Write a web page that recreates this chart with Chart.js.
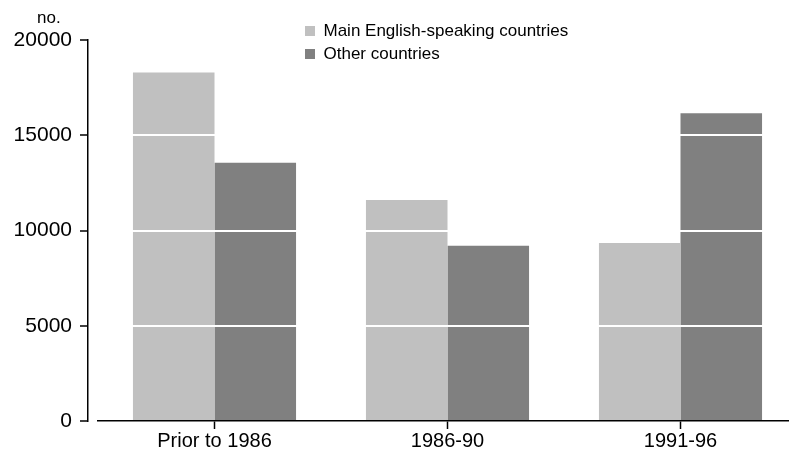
<!DOCTYPE html>
<html>
<head>
<meta charset="utf-8">
<title>Persons by period of arrival</title>
<script src="https://cdn.jsdelivr.net/npm/chart.js@4.4.1/dist/chart.umd.min.js"></script>
<style>
  html, body { margin: 0; padding: 0; background: #fff; overflow: hidden; }
  /* the plot runs a little past the right edge of the window, as in the picture */
  .chart-box { position: relative; width: 797px; height: 452px; }
</style>
</head>
<body>
<div class="chart-box"><canvas id="arrivalChart"></canvas></div>
<script>
// Values
const periods = ["Prior to 1986", "1986-90", "1991-96"];
const mainEnglish = [18300, 11600, 9350];
const otherCountries = [13550, 9200, 16150];
const seriesNames = ["Main English-speaking countries", "Other countries"];
const yTicks = [0, 5000, 10000, 15000, 20000];
const unitLabel = "no.";

Chart.defaults.font.family = "'Liberation Sans', Arial, sans-serif";
Chart.defaults.color = "#000";

// Puts the legend where it sits in the picture and writes the unit label
const placeLegend = {
    id: "placeLegend",
    afterLayout(chart) {
        const lg = chart.legend;
        lg.left = 299;
        lg.top = 16.5;
        lg.right = lg.left + lg.width;
        lg.bottom = lg.top + lg.height;
    },
    afterDraw(chart) {
        const ctx = chart.ctx;
        ctx.save();
        ctx.font = "17px 'Liberation Sans', Arial, sans-serif";
        ctx.fillStyle = "#000";
        ctx.textAlign = "left";
        ctx.textBaseline = "alphabetic";
        ctx.fillText(unitLabel, 37, 23);
        ctx.restore();
    }
};

const ctx = document.getElementById("arrivalChart").getContext("2d");
const arrivalChart = new Chart(ctx, {
    type: "bar",
    data: {
        labels: periods,
        datasets: [{
            label: seriesNames[0],
            data: mainEnglish,
            backgroundColor: "#c0c0c0",
            borderWidth: 0,
            categoryPercentage: 0.7,
            barPercentage: 1.0
        }, {
            label: seriesNames[1],
            data: otherCountries,
            backgroundColor: "#808080",
            borderWidth: 0,
            categoryPercentage: 0.7,
            barPercentage: 1.0
        }]
    },
    options: {
        responsive: true,
        maintainAspectRatio: false,
        animation: false,
        layout: { padding: { top: 40, left: 0, right: 0, bottom: 0 } },
        plugins: {
            tooltip: { enabled: false },
            legend: {
                position: "chartArea",
                align: "start",
                onClick: null,
                labels: {
                    boxWidth: 10,
                    boxHeight: 10,
                    padding: 6,
                    color: "#000",
                    font: { size: 17 }
                }
            }
        },
        scales: {
            x: {
                z: 1,
                offset: true,
                grid: {
                    display: true,
                    z: 1,
                    drawOnChartArea: false,
                    offset: false, // tick marks under the middle of each group
                    tickLength: 8,
                    tickColor: "#000",
                    tickWidth: 1.5
                },
                border: { display: true, z: 2, color: "#000", width: 1.5 },
                ticks: { font: { size: 20 }, padding: 0, maxRotation: 0, color: "#000" },
                afterFit: function(scale) { scale.height = 31; }
            },
            y: {
                position: "left",
                weight: 1,
                min: 0,
                max: 20000,
                afterBuildTicks: function(scale) {
                    scale.ticks = yTicks.map(v => ({ value: v }));
                },
                grid: {
                    z: 1, // white grid lines go over the bars
                    color: function(c) { return c.tick && c.tick.value === 0 ? "rgba(0,0,0,0)" : "#ffffff"; },
                    lineWidth: 2,
                    tickLength: 8,
                    tickColor: "#000",
                    tickWidth: 1.5
                },
                border: { display: true, z: 2, color: "#000", width: 1.5 },
                ticks: {
                    font: { size: 21 },
                    padding: 8,
                    color: "#000",
                    callback: function(value) { return String(value); }
                },
                afterFit: function(scale) { scale.width = 88; }
            },
            // empty gap between the y axis line and the start of the plot
            gap: {
                type: "linear",
                position: "left",
                weight: 0,
                ticks: { display: false },
                grid: { display: false },
                border: { display: false },
                afterFit: function(scale) { scale.width = 10; }
            }
        }
    },
    plugins: [placeLegend]
});
</script>
</body>
</html>
